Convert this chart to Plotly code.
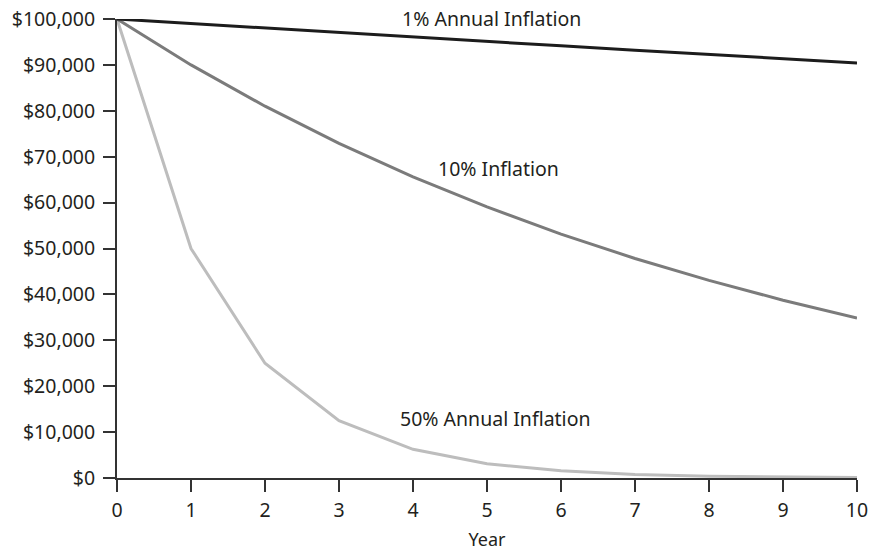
import plotly.graph_objects as go

years = [0, 1, 2, 3, 4, 5, 6, 7, 8, 9, 10]
infl_1 = [100000, 99000, 98010, 97030, 96060, 95100, 94150, 93210, 92270, 91350, 90440]
infl_10 = [100000, 90000, 81000, 72900, 65610, 59050, 53140, 47830, 43050, 38740, 34870]
infl_50 = [100000, 50000, 25000, 12500, 6250, 3125, 1560, 780, 390, 200, 100]

y_ticks = list(range(0, 100001, 10000))
y_ticktext = ["$0", "$10,000", "$20,000", "$30,000", "$40,000", "$50,000",
              "$60,000", "$70,000", "$80,000", "$90,000", "$100,000"]

labels = ["1% Annual Inflation", "10% Inflation", "50% Annual Inflation"]
label_x = [5.06, 5.16, 5.11]
label_y = [100100, 67500, 12900]

font = "Noto Sans"
fs = 19.5
fig = go.Figure()
for vals, col in [(infl_50, "#bdbdbd"), (infl_10, "#7b7b7b"), (infl_1, "#1c1c1c")]:
    fig.add_trace(go.Scatter(x=years, y=vals, mode="lines",
                             line=dict(color=col, width=3), cliponaxis=False,
                             showlegend=False, hoverinfo="skip"))

for t, x, y in zip(labels, label_x, label_y):
    fig.add_annotation(x=x, y=y / 100000, text=t, showarrow=False, xref="x", yref="paper",
                       xanchor="center", yanchor="middle",
                       font=dict(family=font, size=fs, color="#231f20"))

fig.update_layout(
    width=870, height=551,
    margin=dict(l=117, r=13, t=19, b=73),
    paper_bgcolor="white", plot_bgcolor="white",
    font=dict(family=font, size=fs, color="#231f20"),
)
fig.update_xaxes(range=[0, 10], tickvals=years, showgrid=False, zeroline=False,
                 showline=True, linecolor="#333333", linewidth=2,
                 ticks="outside", ticklen=12, tickwidth=2, tickcolor="#333333",
                 ticklabelstandoff=2, ticklabeloverflow="allow",
                 title=dict(text="Year", standoff=19, font=dict(size=18)),
                 tickfont=dict(size=fs), automargin=False)
fig.update_yaxes(range=[0, 100000], tickvals=y_ticks, ticktext=y_ticktext,
                 showgrid=False, zeroline=False,
                 showline=True, linecolor="#333333", linewidth=2,
                 ticks="outside", ticklen=12, tickwidth=2, tickcolor="#333333",
                 ticklabelstandoff=4, ticklabeloverflow="allow",
                 tickfont=dict(size=fs), automargin=False)

fig.write_html("out.html", config={"displayModeBar": False},
               post_script="document.body.style.margin='0';document.body.style.overflow='hidden';")
